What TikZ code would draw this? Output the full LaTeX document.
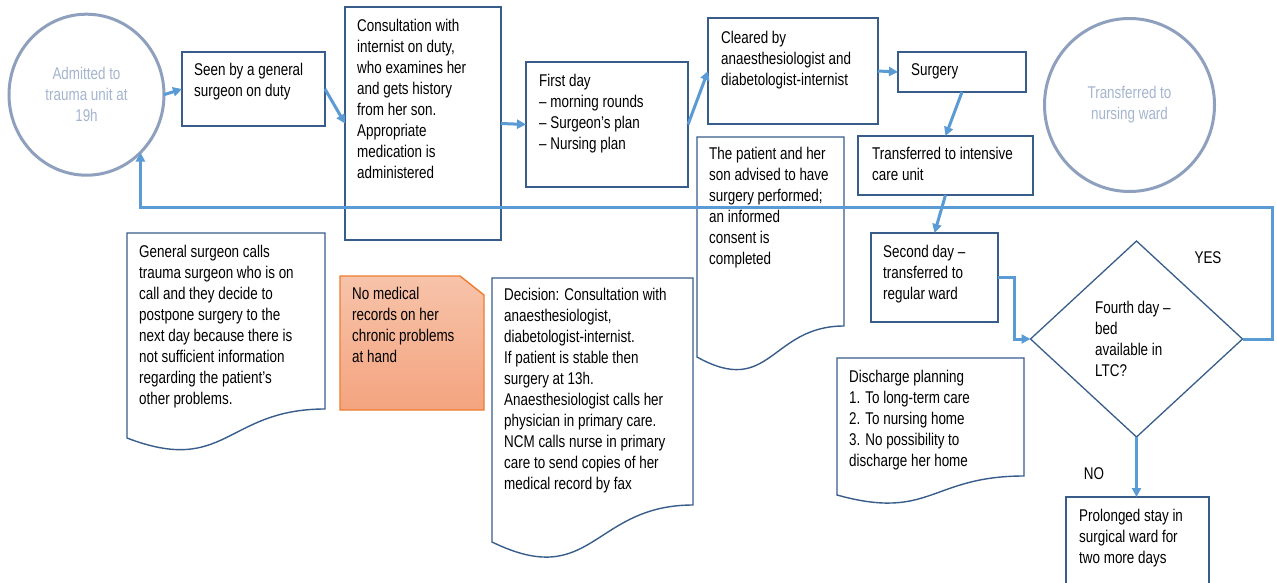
\documentclass[tikz,border=0pt]{standalone}
\usepackage{fontspec}
\setmainfont[FakeStretch=0.79]{Liberation Sans}
\usetikzlibrary{shapes.geometric,arrows.meta,calc}
\definecolor{boxc}{HTML}{385D8A}
\definecolor{arrc}{HTML}{5B9BD5}
\definecolor{circc}{HTML}{8EA0BD}
\definecolor{circt}{HTML}{A5B5CE}
\definecolor{orfillt}{HTML}{F7C3AA}
\definecolor{orfillb}{HTML}{F4A47F}
\definecolor{orline}{HTML}{ED7D31}
\begin{document}
\begin{tikzpicture}[x=1pt,y=-1pt,
  box/.style={draw=boxc, line width=1.4pt, rectangle, inner sep=0pt, outer sep=0pt, anchor=north west},
  txt/.style={anchor=north west, inner sep=0pt, align=left, font=\fontsize{17}{21}\selectfont},
  lbl/.style={inner sep=0pt, font=\fontsize{17}{21}\selectfont},
  arr/.style={draw=arrc, line width=3pt, -{Triangle[length=9pt,width=9pt]}},
  doc/.style={draw=boxc, line width=1.4pt, fill=white},
  circ/.style={ellipse, draw=circc, line width=3pt, text=circt, align=center, inner sep=0pt, outer sep=0pt, font=\fontsize{17}{21}\selectfont}]
\fill[white] (0,0) rectangle (1277,583);
\useasboundingbox (0,0) rectangle (1277,583);
\clip (0,0) rectangle (1277,583);

% circles
\node[circ, minimum width=155pt, minimum height=161pt] (circ1) at (86.5,94.7) {Admitted to\\trauma unit at\\19h};
\node[circ, minimum width=170pt, minimum height=173pt] (circ2) at (1129.5,105) {Transferred to\\nursing ward};

% boxes
\node[box, minimum width=143pt, minimum height=74pt] (seen) at (182,52) {};
\node[txt] (seent) at (194,63) {Seen by a general\\surgeon on duty};

\node[box, minimum width=156pt, minimum height=233pt] (cons) at (345,7) {};
\node[txt] (const) at (357,19) {Consultation with\\internist on duty,\\who examines her\\and gets history\\from her son.\\Appropriate\\medication is\\administered};

\node[box, minimum width=162pt, minimum height=125pt] (first) at (526,62) {};
\node[txt] (firstt) at (539,74) {First day\\– morning rounds\\– Surgeon’s plan\\– Nursing plan};

\node[box, minimum width=170pt, minimum height=106pt] (clear) at (708,18) {};
\node[txt] (cleart) at (721,31) {Cleared by\\anaesthesiologist and\\diabetologist-internist};

\node[box, minimum width=128pt, minimum height=40pt] (surg) at (898,52) {};
\node[txt] (surgt) at (911,63) {Surgery};

\node[box, minimum width=175pt, minimum height=59pt] (icu) at (858,136) {};
\node[txt] (icut) at (872,147) {Transferred to intensive\\care unit};

\node[box, minimum width=127pt, minimum height=89pt] (second) at (871,233) {};
\node[txt] (secondt) at (883,245) {Second day –\\transferred to\\regular ward};

\node[box, minimum width=143pt, minimum height=100pt] (prol) at (1066,497) {};
\node[txt] (prolt) at (1079,509) {Prolonged stay in\\surgical ward for\\two more days};

% documents
\draw[doc] (127,233) -- (325,233) -- (325,409) .. controls (226,409) and (226,476) .. (127,438) -- cycle;
\node[txt] (gent) at (139,245) {General surgeon calls\\trauma surgeon who is on\\call and they decide to\\postpone surgery to the\\next day because there is\\not sufficient information\\regarding the patient’s\\other problems.};

\draw[doc] (697,137) -- (844,137) -- (844,326) .. controls (770.5,326) and (770.5,398) .. (697,357) -- cycle;
\node[txt] (advt) at (709,147) {The patient and her\\son advised to have\\surgery performed;\\an informed\\consent is\\completed};

\draw[doc] (492,278) -- (693,278) -- (693,505) .. controls (592.5,505) and (592.5,591) .. (492,542) -- cycle;
\node[txt] (dect) at (504,288) {Decision: Consultation with\\anaesthesiologist,\\diabetologist-internist.\\If patient is stable then\\surgery at 13h.\\Anaesthesiologist calls her\\physician in primary care.\\NCM calls nurse in primary\\care to send copies of her\\medical record by fax};

\draw[doc] (837,358) -- (1024,358) -- (1024,476) .. controls (930.5,476) and (930.5,521) .. (837,495) -- cycle;
\node[txt] (dist) at (849,370) {Discharge planning\\1. To long-term care\\2. To nursing home\\3. No possibility to\\discharge her home};

% orange note
\shade[top color=orfillt, bottom color=orfillb, draw=orline, line width=1.4pt]
  (340,276) -- (460,276) -- (484,295) -- (484,410) -- (340,410) -- cycle;
\node[txt] (ort) at (352,287) {No medical\\records on her\\chronic problems\\at hand};

% diamond
\node[diamond, draw=boxc, line width=1.3pt, minimum width=212pt, minimum height=196pt, inner sep=0pt, outer sep=0pt] (dia) at (1136.5,339) {};
\node[txt] (diat) at (1095,301) {Fourth day –\\bed\\available in\\LTC?};

\node[lbl] (yes) at (1208,258) {YES};
\node[lbl] (no) at (1094,474) {NO};

% arrows
\draw[arr] (circ1.east) -- (seen.west);
\draw[arr] (seen.east) -- (cons.west);
\draw[arr] (cons.east) -- (first.west);
\draw[arr] (first.east) -- (clear.west);
\draw[arr] (clear.east) -- (surg.west);
\draw[arr] (surg.south) -- (icu.north);
\draw[arr] (icu.south) -- (second.north);
\draw[arr] (second.east) -- ++(16,0) |- (dia.west);
\draw[arr] (dia.south) -- (prol.north -| dia.south);
\coordinate (ret) at (1272,207);
\draw[arr] (dia.east) -| (ret) -| (circ1.-47.5);
\end{tikzpicture}
\end{document}
